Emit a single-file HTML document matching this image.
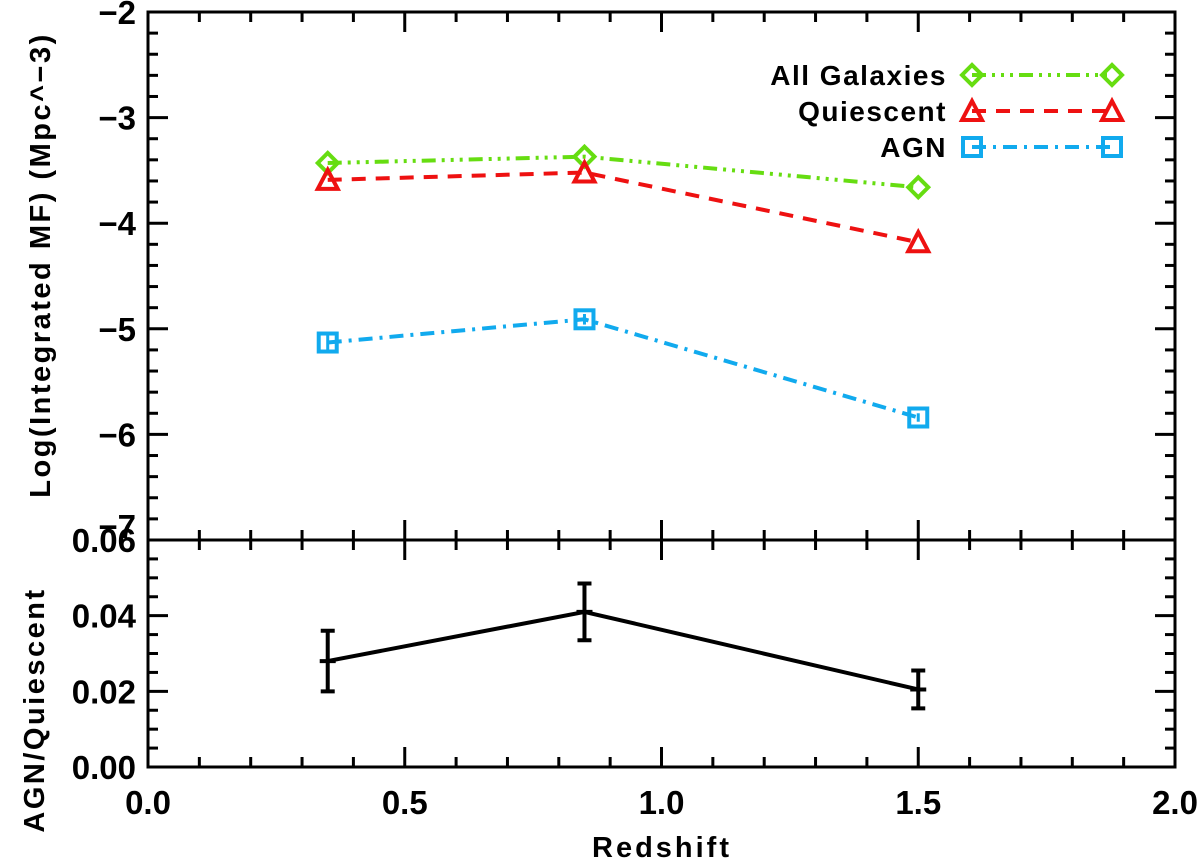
<!DOCTYPE html>
<html><head><meta charset="utf-8"><style>body{margin:0;background:#fff}svg{display:block}text{font-family:"Liberation Sans",sans-serif;font-weight:bold}</style></head>
<body>
<svg id="c" width="1200" height="863"></svg>
<script>
const redshift=[0.35,0.85,1.5];
const allGal=[-3.43,-3.37,-3.66];
const quiescent=[-3.59,-3.52,-4.18];
const agn=[-5.13,-4.91,-5.84];
const agnErr=[0.08,0.05,0.04];
const ratio=[0.028,0.041,0.0205];
const ratioErr=[0.008,0.0075,0.005];
const xTicks=["0.0","0.5","1.0","1.5","2.0"];
const topTicks=["-2","-3","-4","-5","-6","-7"];
const botTicks=["0.00","0.02","0.04","0.06"];

const L=148,R=1175,T=12,M=540,B=767;
const X=v=>L+(v-0)/2*(R-L);
const YT=v=>T+(-2-v)/5*(M-T);
const YB=v=>B-(v/0.06)*(B-M);
const svg=document.getElementById('c');
const NS='http://www.w3.org/2000/svg';
function el(t,a,p){const e=document.createElementNS(NS,t);for(const k in a)e.setAttribute(k,a[k]);(p||svg).appendChild(e);return e;}

let f=el('rect',{x:L,y:T,width:R-L,height:M-T,fill:'none',stroke:'#000','stroke-width':3});


f=el('rect',{x:L,y:M,width:R-L,height:B-M,fill:'none',stroke:'#000','stroke-width':3});



for(let i=0;i<=20;i++){const v=i*0.1,x=X(v),len=(i%5==0)?20:10;
 el('line',{x1:x,y1:B,x2:x,y2:B-len,stroke:'#000','stroke-width':3});
 el('line',{x1:x,y1:M,x2:x,y2:M-len,stroke:'#000','stroke-width':3});
 el('line',{x1:x,y1:T,x2:x,y2:T+len,stroke:'#000','stroke-width':3});
 el('line',{x1:x,y1:M,x2:x,y2:M+len,stroke:'#000','stroke-width':3});}
xTicks.forEach((t,i)=>{const e=el('text',{x:X(i*0.5),y:B+47,'font-size':33,'text-anchor':'middle'});e.textContent=t;
 
 });
for(let i=0;i<=25;i++){const v=-2-i*0.2,y=YT(v),len=(i%5==0)?20:10;
 el('line',{x1:L,y1:y,x2:L+len,y2:y,stroke:'#000','stroke-width':3});
 el('line',{x1:R,y1:y,x2:R-len,y2:y,stroke:'#000','stroke-width':3});}
topTicks.forEach((t,i)=>{const y=i==5?YT(-2-i)-2:YT(-2-i)+12;const e=el('text',{x:L-12,y:y,'font-size':33,'text-anchor':'end'});e.textContent=t.replace('-','−');
 
 });
for(let i=0;i<=12;i++){const v=i*0.005,y=YB(v),len=(i%4==0)?20:10;
 el('line',{x1:L,y1:y,x2:L+len,y2:y,stroke:'#000','stroke-width':3});
 el('line',{x1:R,y1:y,x2:R-len,y2:y,stroke:'#000','stroke-width':3});}
botTicks.forEach((t,i)=>{const e=el('text',{x:L-12,y:YB(i*0.02)+12,'font-size':33,'text-anchor':'end'});e.textContent=t;
 
 });

let e=el('text',{x:662,y:857,'font-size':29,'text-anchor':'middle','letter-spacing':3});e.textContent='Redshift';


e=el('text',{x:0,y:0,'font-size':29,'text-anchor':'middle','letter-spacing':2.5,transform:'translate(50,265) rotate(-90)'});e.textContent='Log(Integrated MF)  (Mpc^−3)';


e=el('text',{x:0,y:0,'font-size':29,'text-anchor':'middle','letter-spacing':2.5,transform:'translate(44,710) rotate(-90)'});e.textContent='AGN/Quiescent';



function marker(kind,x,y,c){
 if(kind=='d')return el('polygon',{points:`${x-10},${y} ${x},${y-10} ${x+10},${y} ${x},${y+10}`,fill:'none',stroke:c,'stroke-width':4});
 if(kind=='t')return el('polygon',{points:`${x-10},${y+9} ${x},${y-10} ${x+10},${y+9}`,fill:'none',stroke:c,'stroke-width':4});
 return el('rect',{x:x-9,y:y-9,width:18,height:18,fill:'none',stroke:c,'stroke-width':4});
}
const series=[
 {name:'all-galaxies',vals:allGal,c:'#66dd11',dash:'14,6,3,6,3,6,3,6',m:'d',label:'All Galaxies'},
 {name:'quiescent',vals:quiescent,c:'#ee1111',dash:'14,10',m:'t',label:'Quiescent'},
 {name:'agn',vals:agn,c:'#11aaee',dash:'14,7,3,7',m:'s',label:'AGN'}];
series.forEach((s,si)=>{
 const p=el('polyline',{points:s.vals.map((v,i)=>X(redshift[i])+','+YT(v)).join(' '),fill:'none',stroke:s.c,'stroke-width':4,'stroke-dasharray':s.dash});
 
 
 s.vals.forEach((v,i)=>{
  if(s.name=='agn'){const x=X(redshift[i]);el('line',{x1:x,y1:YT(v-agnErr[i]),x2:x,y2:YT(v+agnErr[i]),stroke:s.c,'stroke-width':3});}
  const m=marker(s.m,X(redshift[i]),YT(v),s.c);
  
  
 });
 const ly=75+si*36;
 const t=el('text',{x:947,y:ly+10,'font-size':28,'text-anchor':'end','letter-spacing':1.5});t.textContent=s.label;
 
 
 const ll=el('line',{x1:972,y1:ly,x2:1112,y2:ly,stroke:s.c,'stroke-width':4,'stroke-dasharray':s.dash});
 
 
 marker(s.m,972,ly,s.c);marker(s.m,1112,ly,s.c);
});

const rp=el('polyline',{points:ratio.map((v,i)=>X(redshift[i])+','+YB(v)).join(' '),fill:'none',stroke:'#000','stroke-width':4});


ratio.forEach((v,i)=>{const x=X(redshift[i]);
 const g=el('path',{d:`M${x},${YB(v-ratioErr[i])}V${YB(v+ratioErr[i])}M${x-7},${YB(v-ratioErr[i])}h14M${x-7},${YB(v+ratioErr[i])}h14M${x-8},${YB(v)}h16`,stroke:'#000','stroke-width':4,fill:'none'});
 
 });
</script>
</body></html>
